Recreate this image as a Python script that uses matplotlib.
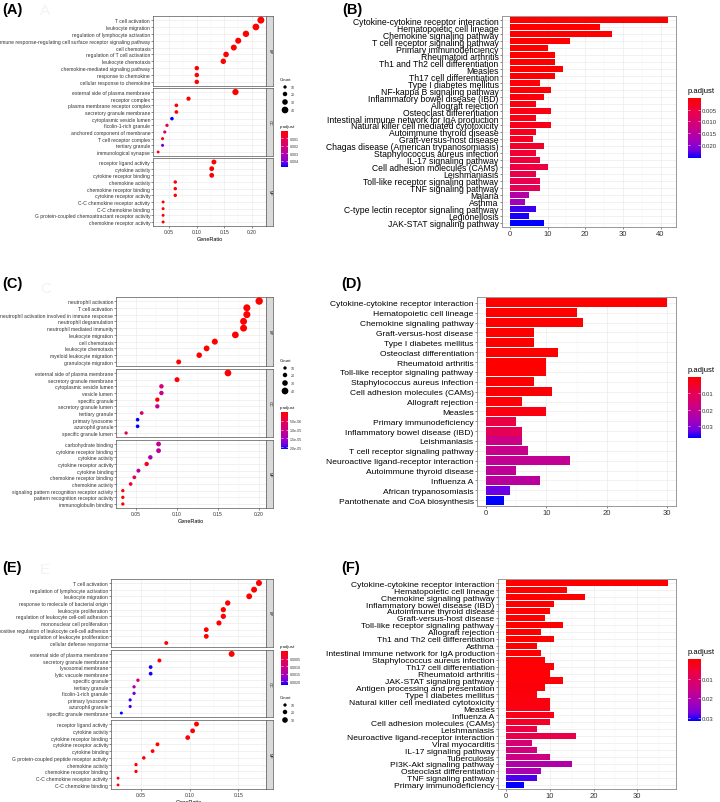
import numpy as np
import matplotlib
matplotlib.use('Agg')
import matplotlib.pyplot as plt
from matplotlib.colors import LinearSegmentedColormap, Normalize

plt.rcParams['font.family'] = ['Liberation Sans', 'DejaVu Sans']
plt.rcParams['axes.linewidth'] = 0.5

W, H = 720, 803

# ---------------- (A) GO dot plot ----------------
a_bp_terms = ['T cell activation', 'leukocyte migration', 'regulation of lymphocyte activation',
              'immune response-regulating cell surface receptor signaling pathway', 'cell chemotaxis',
              'regulation of T cell activation', 'leukocyte chemotaxis',
              'chemokine-mediated signaling pathway', 'response to chemokine', 'cellular response to chemokine']
a_bp_ratio = [0.216, 0.207, 0.189, 0.175, 0.167, 0.153, 0.148, 0.100, 0.100, 0.100]
a_bp_count = [42, 40, 37, 34, 33, 30, 29, 20, 20, 20]
a_bp_padj = [1e-12, 1e-12, 1e-11, 1e-10, 1e-10, 1e-9, 1e-9, 1e-8, 1e-8, 1e-8]

a_cc_terms = ['external side of plasma membrane', 'receptor complex', 'plasma membrane receptor complex',
              'secretory granule membrane', 'cytoplasmic vesicle lumen', 'ficolin-1-rich granule',
              'anchored component of membrane', 'T cell receptor complex', 'tertiary granule',
              'immunological synapse']
a_cc_ratio = [0.170, 0.085, 0.063, 0.063, 0.055, 0.046, 0.042, 0.038, 0.038, 0.030]
a_cc_count = [36, 18, 13, 13, 12, 10, 9, 8, 8, 6]
a_cc_padj = [1e-10, 1e-6, 1e-5, 1e-5, 0.0048, 0.0012, 0.0019, 0.0004, 0.0041, 0.0003]

a_mf_terms = ['receptor ligand activity', 'cytokine activity', 'cytokine receptor binding',
              'chemokine activity', 'chemokine receptor binding', 'cytokine receptor activity',
              'C-C chemokine receptor activity', 'C-C chemokine binding',
              'G protein-coupled chemoattractant receptor activity', 'chemokine receptor activity']
a_mf_ratio = [0.131, 0.127, 0.127, 0.061, 0.061, 0.061, 0.039, 0.039, 0.039, 0.039]
a_mf_count = [24, 23, 23, 11, 11, 11, 7, 7, 7, 7]
a_mf_padj = [1e-9, 1e-9, 1e-9, 1e-7, 1e-7, 1e-7, 1e-5, 1e-5, 1e-5, 1e-5]

# ---------------- (B) KEGG bar plot ----------------
b_terms = ['Cytokine-cytokine receptor interaction', 'Hematopoietic cell lineage',
           'Chemokine signaling pathway', 'T cell receptor signaling pathway', 'Primary immunodeficiency',
           'Rheumatoid arthritis', 'Th1 and Th2 cell differentiation', 'Measles',
           'Th17 cell differentiation', 'Type I diabetes mellitus', 'NF-kappa B signaling pathway',
           'Inflammatory bowel disease (IBD)', 'Allograft rejection', 'Osteoclast differentiation',
           'Intestinal immune network for IgA production', 'Natural killer cell mediated cytotoxicity',
           'Autoimmune thyroid disease', 'Graft-versus-host disease',
           'Chagas disease (American trypanosomiasis)', 'Staphylococcus aureus infection',
           'IL-17 signaling pathway', 'Cell adhesion molecules (CAMs)', 'Leishmaniasis',
           'Toll-like receptor signaling pathway', 'TNF signaling pathway', 'Malaria', 'Asthma',
           'C-type lectin receptor signaling pathway', 'Legionellosis', 'JAK-STAT signaling pathway']
b_count = [42, 24, 27, 16, 10, 12, 12, 14, 12, 8, 11, 9, 7, 11, 7, 11, 7, 6, 9, 7,
           8, 10, 7, 8, 8, 5, 4, 7, 5, 9]
b_padj = [1e-12, 1e-10, 1e-9, 1e-7, 1e-5, 5e-5, 1e-4, 2e-4, 3e-4, 5e-4, 6e-4, 9e-4, 1.2e-3,
          1.5e-3, 1.8e-3, 2.1e-3, 2.5e-3, 2.8e-3, 3.5e-3, 4.0e-3, 4.6e-3, 5.2e-3, 5.8e-3,
          6.4e-3, 7.0e-3, 1.6e-2, 1.8e-2, 2.4e-2, 2.5e-2, 2.58e-2]

# ---------------- (C) GO dot plot ----------------
c_bp_terms = ['neutrophil activation', 'T cell activation', 'neutrophil activation involved in immune response',
              'neutrophil degranulation', 'neutrophil mediated immunity', 'leukocyte migration',
              'cell chemotaxis', 'leukocyte chemotaxis', 'myeloid leukocyte migration',
              'granulocyte migration']
c_bp_ratio = [0.200, 0.185, 0.185, 0.181, 0.181, 0.171, 0.146, 0.136, 0.127, 0.102]
c_bp_count = [46, 43, 43, 42, 42, 40, 34, 32, 30, 24]
c_bp_padj = [1e-12, 1e-12, 1e-12, 1e-11, 1e-11, 1e-11, 1e-10, 1e-10, 1e-9, 1e-8]

c_cc_terms = ['external side of plasma membrane', 'secretory granule membrane', 'cytoplasmic vesicle lumen',
              'vesicle lumen', 'specific granule', 'secretory granule lumen', 'tertiary granule',
              'primary lysosome', 'azurophil granule', 'specific granule lumen']
c_cc_ratio = [0.162, 0.100, 0.081, 0.081, 0.076, 0.076, 0.057, 0.052, 0.052, 0.038]
c_cc_count = [40, 25, 20, 20, 19, 19, 14, 13, 13, 10]
c_cc_padj = [1e-10, 1e-8, 9.0e-6, 1.05e-5, 1e-7, 1.1e-5, 8.0e-6, 2.1e-5, 2.1e-5, 6.0e-6]

c_mf_terms = ['carbohydrate binding', 'cytokine receptor binding', 'cytokine activity',
              'cytokine receptor activity', 'cytokine binding', 'chemokine receptor binding',
              'chemokine activity', 'signaling pattern recognition receptor activity',
              'pattern recognition receptor activity', 'immunoglobulin binding']
c_mf_ratio = [0.0775, 0.0775, 0.0675, 0.063, 0.053, 0.048, 0.0435, 0.034, 0.034, 0.034]
c_mf_count = [23, 23, 20, 19, 16, 14, 13, 10, 10, 10]
c_mf_padj = [1.1e-5, 1.2e-5, 1.4e-5, 2e-6, 1.3e-5, 5e-6, 3e-6, 1e-7, 1e-7, 1e-7]

# ---------------- (D) KEGG bar plot ----------------
d_terms = ['Cytokine-cytokine receptor interaction', 'Hematopoietic cell lineage',
           'Chemokine signaling pathway', 'Graft-versus-host disease', 'Type I diabetes mellitus',
           'Osteoclast differentiation', 'Rheumatoid arthritis', 'Toll-like receptor signaling pathway',
           'Staphylococcus aureus infection', 'Cell adhesion molecules (CAMs)', 'Allograft rejection',
           'Measles', 'Primary immunodeficiency', 'Inflammatory bowel disease (IBD)', 'Leishmaniasis',
           'T cell receptor signaling pathway', 'Neuroactive ligand-receptor interaction',
           'Autoimmune thyroid disease', 'Influenza A', 'African trypanosomiasis',
           'Pantothenate and CoA biosynthesis']
d_count = [30, 15, 16, 8, 8, 12, 10, 10, 8, 11, 6, 10, 5, 6, 6, 7, 14, 5, 9, 4, 3]
d_padj = [1e-12, 1e-8, 1e-6, 1e-5, 2e-5, 5e-5, 1e-4, 2e-4, 5e-4, 8e-4, 1e-3, 2e-3, 8e-3,
          1.0e-2, 1.8e-2, 1.9e-2, 2.05e-2, 2.1e-2, 2.2e-2, 3.3e-2, 3.74e-2]

# ---------------- (E) GO dot plot ----------------
e_bp_terms = ['T cell activation', 'regulation of lymphocyte activation', 'leukocyte migration',
              'response to molecule of bacterial origin', 'leukocyte proliferation',
              'regulation of leukocyte cell-cell adhesion', 'mononuclear cell proliferation',
              'positive regulation of leukocyte cell-cell adhesion', 'regulation of leukocyte proliferation',
              'cellular defense response']
e_bp_ratio = [0.171, 0.166, 0.161, 0.139, 0.1345, 0.1345, 0.130, 0.117, 0.117, 0.076]
e_bp_count = [34, 33, 32, 28, 27, 27, 26, 23, 23, 15]
e_bp_padj = [1e-12, 1e-12, 1e-11, 1e-10, 1e-10, 1e-10, 1e-9, 1e-9, 1e-9, 1e-7]

e_cc_terms = ['external side of plasma membrane', 'secretory granule membrane', 'lysosomal membrane',
              'lytic vacuole membrane', 'specific granule', 'tertiary granule', 'ficolin-1-rich granule',
              'primary lysosome', 'azurophil granule', 'specific granule membrane']
e_cc_ratio = [0.143, 0.069, 0.060, 0.060, 0.047, 0.043, 0.043, 0.039, 0.039, 0.030]
e_cc_count = [33, 16, 14, 14, 11, 10, 10, 9, 9, 7]
e_cc_padj = [1e-9, 1e-5, 0.0022, 0.0022, 0.0009, 0.0015, 0.0019, 0.0021, 0.0021, 0.00226]

e_mf_terms = ['receptor ligand activity', 'cytokine activity', 'cytokine receptor binding',
              'cytokine receptor activity', 'cytokine binding', 'G protein-coupled peptide receptor activity',
              'chemokine activity', 'chemokine receptor binding', 'C-C chemokine receptor activity',
              'C-C chemokine binding']
e_mf_ratio = [0.107, 0.103, 0.098, 0.067, 0.062, 0.053, 0.045, 0.045, 0.0266, 0.0266]
e_mf_count = [24, 23, 22, 15, 14, 12, 10, 10, 6, 6]
e_mf_padj = [1e-9, 1e-9, 1e-9, 1e-7, 1e-7, 1e-6, 1e-5, 1e-5, 1e-4, 1e-4]

# ---------------- (F) KEGG bar plot ----------------
f_terms = ['Cytokine-cytokine receptor interaction', 'Hematopoietic cell lineage',
           'Chemokine signaling pathway', 'Inflammatory bowel disease (IBD)', 'Autoimmune thyroid disease',
           'Graft-versus-host disease', 'Toll-like receptor signaling pathway', 'Allograft rejection',
           'Th1 and Th2 cell differentiation', 'Asthma', 'Intestinal immune network for IgA production',
           'Staphylococcus aureus infection', 'Th17 cell differentiation', 'Rheumatoid arthritis',
           'JAK-STAT signaling pathway', 'Antigen processing and presentation', 'Type I diabetes mellitus',
           'Natural killer cell mediated cytotoxicity', 'Measles', 'Influenza A',
           'Cell adhesion molecules (CAMs)', 'Leishmaniasis', 'Neuroactive ligand-receptor interaction',
           'Viral myocarditis', 'IL-17 signaling pathway', 'Tuberculosis', 'PI3K-Akt signaling pathway',
           'Osteoclast differentiation', 'TNF signaling pathway', 'Primary immunodeficiency']
f_count = [37, 14, 18, 11, 10, 9, 13, 8, 11, 7, 8, 9, 11, 10, 13, 9, 7, 10, 10, 11,
           10, 7, 16, 6, 7, 10, 15, 8, 7, 4]
f_padj = [1e-12, 1e-9, 1e-8, 1e-7, 1e-6, 5e-6, 1e-5, 5e-5, 1e-4, 2e-4, 3e-4, 4e-4, 5e-4,
          6e-4, 8e-4, 1e-3, 1.2e-3, 1.5e-3, 1.8e-3, 2.5e-3, 4e-3, 7e-3, 7.5e-3, 1.3e-2,
          1.4e-2, 1.5e-2, 2.0e-2, 2.1e-2, 2.9e-2, 3.16e-2]

# ggplot-like red -> blue gradient (Lab interpolation)
cmap = LinearSegmentedColormap.from_list(
    'rb', [(0, '#FF0000'), (0.25, '#E80050'), (0.5, '#CA0088'), (0.75, '#9A00C3'),
           (0.875, '#7300E0'), (1, '#0000FF')])

fig = plt.figure(figsize=(W / 100, H / 100), dpi=100)


def px_axes(x0, y0, x1, y1):
    return fig.add_axes([x0 / W, 1 - y1 / H, (x1 - x0) / W, (y1 - y0) / H])


def dot_size(count):
    d = 2.2 + 0.113 * np.asarray(count, dtype=float)  # diameter in px
    return (d * 0.72) ** 2


def colorbar(x0, y0, x1, y1, vmin, vmax, ticks, labels, fs):
    cax = px_axes(x0, y0, x1, y1)
    grad = np.linspace(vmin, vmax, 256)[:, None]
    cax.imshow(grad, aspect='auto', cmap=cmap, extent=[0, 1, vmax, vmin], origin='upper')
    cax.set_xticks([])
    cax.set_yticks(ticks)
    cax.set_yticklabels(labels, fontsize=fs, color='#333333')
    cax.tick_params(axis='y', left=True, right=True, labelleft=False, labelright=True,
                    direction='in', length=1.5, width=0.4, color='white', pad=1.5)
    for s in cax.spines.values():
        s.set_visible(False)


def dotplot(blocks, x0, x1, rows, xticks):
    allx = np.concatenate([b[2] for b in blocks])
    allp = np.concatenate([b[4] for b in blocks])
    lo, hi = allx.min(), allx.max()
    pad = 0.05 * (hi - lo)
    norm = Normalize(allp.min(), allp.max())
    minor = [(xticks[i] + xticks[i + 1]) / 2 for i in range(len(xticks) - 1)]
    minor = [xticks[0] - (xticks[1] - xticks[0]) / 2] + minor + [xticks[-1] + (xticks[1] - xticks[0]) / 2]
    for k, (lab, terms, ratio, count, padj) in enumerate(blocks):
        top, bot = rows[k]
        ax = px_axes(x0, top, x1, bot)
        n = len(terms)
        y = n - np.arange(n)
        for yy in y:
            ax.axhline(yy, color='#EBEBEB', lw=0.5, zorder=0)
        for t in xticks:
            ax.axvline(t, color='#EBEBEB', lw=0.5, zorder=0)
        for t in minor:
            ax.axvline(t, color='#F4F4F4', lw=0.3, zorder=0)
        ax.scatter(ratio, y, s=dot_size(count), c=padj, cmap=cmap, norm=norm,
                   linewidths=0, zorder=3)
        ax.set_xlim(lo - pad, hi + pad)
        ax.set_ylim(0.4, n + 0.6)
        ax.set_yticks(y)
        ax.set_yticklabels(terms, fontsize=3.6, color='#333333')
        ax.set_xticks(xticks)
        ax.tick_params(length=1.2, width=0.4, pad=0.8, color='#333333')
        if k == len(blocks) - 1:
            ax.set_xticklabels([f'{t:.2f}' for t in xticks], fontsize=3.6, color='#333333')
            ax.set_xlabel('GeneRatio', fontsize=4, labelpad=1.5)
        else:
            ax.tick_params(axis='x', length=0, labelbottom=False)
        for s in ax.spines.values():
            s.set_color('#555555')
            s.set_linewidth(0.5)
        sax = px_axes(x1, top, x1 + 7, bot)
        sax.set_facecolor('#D9D9D9')
        sax.set_xticks([])
        sax.set_yticks([])
        for s in sax.spines.values():
            s.set_color('#555555')
            s.set_linewidth(0.5)
        sax.text(0.5, 0.5, lab, rotation=270, ha='center', va='center', fontsize=2.8,
                 color='#1A1A1A', transform=sax.transAxes)
    return norm


def barplot(terms, counts, padj, x0, y0, x1, y1, xticks, fs, cbox, cticks, clabels):
    ax = px_axes(x0, y0, x1, y1)
    n = len(terms)
    y = n - np.arange(n)
    norm = Normalize(min(padj), max(padj))
    step = xticks[1] - xticks[0]
    for yy in y:
        ax.axhline(yy, color='#EBEBEB', lw=0.5, zorder=0)
    for t in xticks:
        ax.axvline(t, color='#EBEBEB', lw=0.5, zorder=0)
    for t in xticks:
        ax.axvline(t + step / 2, color='#F4F4F4', lw=0.3, zorder=0)
    ax.barh(y, counts, height=0.9, color=cmap(norm(np.array(padj))), zorder=2)
    mx = max(counts)
    ax.set_xlim(-0.05 * mx, 1.05 * mx)
    ax.set_ylim(0.4, n + 0.6)
    ax.set_yticks(y)
    ax.set_yticklabels(terms, fontsize=fs, color='black')
    ax.set_xticks(xticks)
    ax.set_xticklabels([str(t) for t in xticks], fontsize=5.5, color='#333333')
    ax.tick_params(length=1.5, width=0.4, pad=1, color='#333333')
    for s in ax.spines.values():
        s.set_color('#888888')
        s.set_linewidth(0.6)
    cx0, cy0, cx1, cy1 = cbox
    colorbar(cx0, cy0, cx1, cy1, min(padj), max(padj), cticks, clabels, 4.3)
    fig.text(cx0 / W, 1 - (cy0 - 4) / H, 'p.adjust', fontsize=5.5, ha='left', va='bottom')


# ---- panel A ----
normA = dotplot([('BP', a_bp_terms, a_bp_ratio, a_bp_count, a_bp_padj),
                 ('CC', a_cc_terms, a_cc_ratio, a_cc_count, a_cc_padj),
                 ('MF', a_mf_terms, a_mf_ratio, a_mf_count, a_mf_padj)],
                153, 266, [(17, 87), (89, 157), (159, 227)], [0.05, 0.10, 0.15, 0.20])
colorbar(281, 132, 288, 168, normA.vmin, normA.vmax, [0.001, 0.002, 0.003, 0.004],
         ['0.001', '0.002', '0.003', '0.004'], 2.6)

# ---- panel B ----
barplot(b_terms, b_count, b_padj, 502, 17, 676, 228, [0, 10, 20, 30, 40], 6.2,
        (688, 99, 700, 159), [0.005, 0.010, 0.015, 0.020], ['0.005', '0.010', '0.015', '0.020'])

# ---- panel C ----
normC = dotplot([('BP', c_bp_terms, c_bp_ratio, c_bp_count, c_bp_padj),
                 ('CC', c_cc_terms, c_cc_ratio, c_cc_count, c_cc_padj),
                 ('MF', c_mf_terms, c_mf_ratio, c_mf_count, c_mf_padj)],
                116, 266, [(298, 367), (370, 438), (441, 509)], [0.05, 0.10, 0.15, 0.20])
colorbar(281, 413, 288, 450, normC.vmin, normC.vmax, [5e-6, 1e-5, 1.5e-5, 2e-5],
         ['5.0e-06', '1.0e-05', '1.5e-05', '2.0e-05'], 2.6)

# ---- panel D ----
barplot(d_terms, d_count, d_padj, 477, 298, 676, 507, [0, 10, 20, 30], 6.1,
        (688, 378, 700, 439), [0.01, 0.02, 0.03], ['0.01', '0.02', '0.03'])

# ---- panel E ----
normE = dotplot([('BP', e_bp_terms, e_bp_ratio, e_bp_count, e_bp_padj),
                 ('CC', e_cc_terms, e_cc_ratio, e_cc_count, e_cc_padj),
                 ('MF', e_mf_terms, e_mf_ratio, e_mf_count, e_mf_padj)],
                111, 266, [(580, 648), (651, 718), (721, 790)], [0.05, 0.10, 0.15])
colorbar(281, 652, 288, 686, normE.vmin, normE.vmax, [0.0005, 0.0010, 0.0015, 0.0020],
         ['0.0005', '0.0010', '0.0015', '0.0020'], 2.6)

# ---- panel F ----
barplot(f_terms, f_count, f_padj, 498, 580, 676, 790, [0, 10, 20, 30], 6.1,
        (688, 660, 700, 722), [0.01, 0.02, 0.03], ['0.01', '0.02', '0.03'])

# ---- overlay: panel letters and dot-plot legends (pixel coordinates) ----
ov = fig.add_axes([0, 0, 1, 1])
ov.set_xlim(0, W)
ov.set_ylim(H, 0)
ov.axis('off')

for lab, x, y in [('(A)', 2, 10), ('(B)', 342, 10), ('(C)', 2, 284), ('(D)', 341, 284),
                  ('(E)', 2, 568), ('(F)', 341, 568)]:
    ov.text(x, y, lab, fontsize=10.5, fontweight='bold', ha='left', va='center')
for lab, y in [('A', 11), ('C', 289), ('E', 570)]:
    ov.text(40, y, lab, fontsize=11, color='#F3F3F3', ha='left', va='center')


def count_legend(x, ytitle, ys, values):
    ov.text(x - 4, ytitle, 'Count', fontsize=3.2, color='#1A1A1A', ha='left', va='center')
    ov.scatter([x + 1] * len(values), ys, s=dot_size(values), color='black', linewidths=0)
    for yy, v in zip(ys, values):
        ov.text(x + 7, yy, str(v), fontsize=2.6, color='#333333', ha='left', va='center')


count_legend(284, 80, [88, 95, 103, 111], [10, 20, 30, 40])
ov.text(280, 127, 'p.adjust', fontsize=3.2, color='#1A1A1A', ha='left', va='center')
count_legend(284, 361, [369, 376, 384, 392], [10, 20, 30, 40])
ov.text(280, 408, 'p.adjust', fontsize=3.2, color='#1A1A1A', ha='left', va='center')
ov.text(280, 647, 'p.adjust', fontsize=3.2, color='#1A1A1A', ha='left', va='center')
count_legend(284, 698, [706, 713, 721], [10, 20, 30])

fig.savefig('out.png', dpi=100)
